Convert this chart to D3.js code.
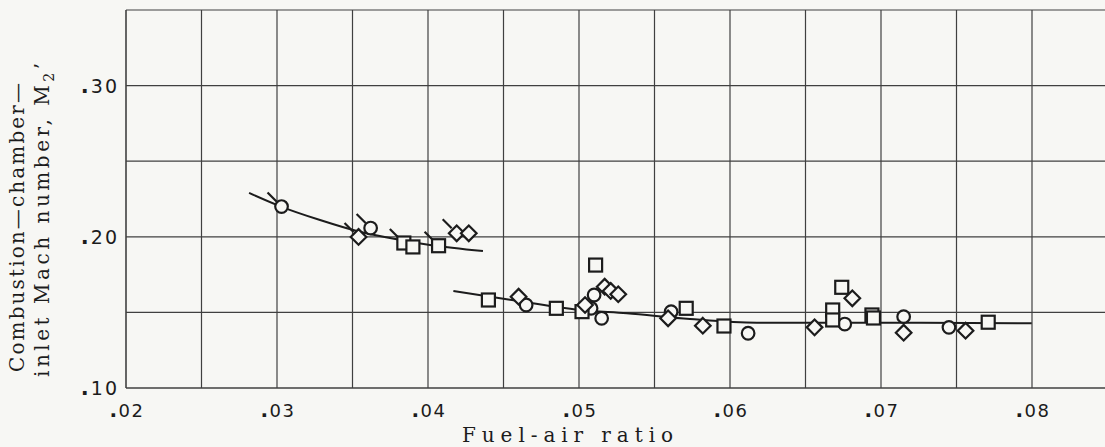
<!DOCTYPE html>
<html>
<head>
<meta charset="utf-8">
<script src="https://cdn.jsdelivr.net/npm/d3@7"></script>
<style>
  html, body { margin: 0; padding: 0; background: #f7f7f4; }
  svg { display: block; }
</style>
</head>
<body>
<svg id="drawing_region"></svg>
<script>
// tick values
const xTicks = [0.02, 0.03, 0.04, 0.05, 0.06, 0.07, 0.08];
const yTicks = [0.10, 0.20, 0.30];

// circles
const circleFar = [0.0303, 0.0362, 0.0465, 0.0510, 0.0508, 0.0515, 0.0561, 0.0612, 0.0676, 0.0715, 0.0745];
const circleM2  = [0.2200, 0.2058, 0.1549, 0.1615, 0.1527, 0.1461, 0.1505, 0.1362, 0.1423, 0.1472, 0.1401];
const circleFlag = [1, 1, 0, 0, 0, 0, 0, 0, 0, 0, 0];

// squares
const squareFar = [0.0384, 0.0390, 0.0407, 0.0440, 0.0485, 0.0511, 0.0502, 0.0571, 0.0596, 0.0668, 0.0668, 0.0674, 0.0694, 0.0695, 0.0771];
const squareM2  = [0.1959, 0.1933, 0.1941, 0.1582, 0.1527, 0.1813, 0.1505, 0.1527, 0.1410, 0.1516, 0.1450, 0.1666, 0.1483, 0.1463, 0.1435];
const squareFlag = [1, 0, 1, 0, 0, 0, 0, 0, 0, 0, 0, 0, 0, 0, 0];

// diamonds
const diamondFar = [0.0354, 0.0419, 0.0427, 0.0460, 0.0504, 0.0517, 0.0521, 0.0526, 0.0559, 0.0582, 0.0656, 0.0681, 0.0715, 0.0756];
const diamondM2  = [0.1999, 0.2023, 0.2023, 0.1604, 0.1549, 0.1670, 0.1642, 0.1620, 0.1461, 0.1412, 0.1401, 0.1593, 0.1366, 0.1379];
const diamondFlag = [1, 1, 0, 0, 0, 0, 0, 0, 0, 0, 0, 0, 0, 0];

// faired curves
const curve1Far = [0.02815, 0.03026, 0.03285, 0.03530, 0.03815, 0.04013, 0.04364];
const curve1M2  = [0.2290, 0.2200, 0.2111, 0.2038, 0.1979, 0.1946, 0.1906];
const curve2Far = [0.04168, 0.04521, 0.05007, 0.05316, 0.05735, 0.06177, 0.07060, 0.07998];
const curve2M2  = [0.1642, 0.1587, 0.1516, 0.1494, 0.1456, 0.1432, 0.1432, 0.1428];

const width = 1105, height = 447;
const ink = '#1c1c1c';
const paper = '#f7f7f4';

const svg = d3.select('#drawing_region')
    .attr('width', width)
    .attr('height', height);

svg.append('rect').attr('width', width).attr('height', height).attr('fill', paper);

const xscale = d3.scaleLinear().domain([0.02, 0.08]).range([126, 1032]);
const yscale = d3.scaleLinear().domain([0.10, 0.35]).range([388, 10]);

// grid
const gridX = d3.range(0, 14).map(i => 0.02 + i * 0.005);
const gridY = d3.range(0, 6).map(i => 0.10 + i * 0.05);

svg.append('g')
    .selectAll('line')
    .data(gridX)
    .join('line')
    .attr('x1', d => xscale(d)).attr('x2', d => xscale(d))
    .attr('y1', yscale(0.35)).attr('y2', yscale(0.10))
    .attr('stroke', '#404040')
    .attr('stroke-width', d => d === 0.02 ? 1.6 : 1.2);

svg.append('g')
    .selectAll('line')
    .data(gridY)
    .join('line')
    .attr('x1', xscale(0.02)).attr('x2', width)
    .attr('y1', d => yscale(d)).attr('y2', d => yscale(d))
    .attr('stroke', '#404040')
    .attr('stroke-width', d => d < 0.11 ? 1.7 : 1.2);

// tick labels
const fmt = d => d3.format('.2f')(d).slice(1);

const xlab = svg.append('g')
    .selectAll('text')
    .data(xTicks)
    .join('text')
    .attr('x', d => xscale(d) + 1)
    .attr('y', 417)
    .attr('text-anchor', 'middle')
    .attr('font-family', 'DejaVu Sans')
    .attr('font-size', 18)
    .attr('letter-spacing', 1.5)
    .attr('fill', ink);
xlab.append('tspan').attr('font-weight', 'bold').attr('font-size', 20).text('.');
xlab.append('tspan').text(d => fmt(d).slice(1));

const ylab = svg.append('g')
    .selectAll('text')
    .data(yTicks)
    .join('text')
    .attr('x', 119)
    .attr('y', d => yscale(d) + 7)
    .attr('text-anchor', 'end')
    .attr('font-family', 'DejaVu Sans')
    .attr('font-size', 19)
    .attr('letter-spacing', 2)
    .attr('fill', ink);
ylab.append('tspan').attr('font-weight', 'bold').attr('font-size', 21).text('.');
ylab.append('tspan').text(d => fmt(d).slice(1));

// axis titles, typewriter style
svg.append('text')
    .attr('x', 462).attr('y', 442)
    .attr('font-family', 'DejaVu Serif')
    .attr('font-size', 20)
    .attr('textLength', 211)
    .attr('lengthAdjust', 'spacing')
    .attr('fill', ink)
    .text('Fuel-air ratio');

svg.append('text')
    .attr('transform', 'translate(24,372) rotate(-90)')
    .attr('font-family', 'DejaVu Serif')
    .attr('font-size', 20)
    .attr('textLength', 289)
    .attr('lengthAdjust', 'spacing')
    .attr('fill', ink)
    .text('Combustion\u2014chamber\u2014');

const t2 = svg.append('text')
    .attr('transform', 'translate(49,377) rotate(-90)')
    .attr('font-family', 'DejaVu Serif')
    .attr('font-size', 20)
    .attr('textLength', 314)
    .attr('lengthAdjust', 'spacing')
    .attr('fill', ink);
t2.append('tspan').text('inlet Mach number, M');
t2.append('tspan').attr('font-size', 14).attr('dy', 5).text('2');
t2.append('tspan').attr('dy', -5).text('\u2019');

// faired curves
const line = d3.line()
    .x(d => xscale(d[0]))
    .y(d => yscale(d[1]))
    .curve(d3.curveMonotoneX);

[[curve1Far, curve1M2], [curve2Far, curve2M2]].forEach(([fx, fy]) => {
    svg.append('path')
        .datum(fx.map((v, i) => [v, fy[i]]))
        .attr('d', line)
        .attr('fill', 'none')
        .attr('stroke', ink)
        .attr('stroke-width', 2);
});

// symbols
const marks = svg.append('g')
    .attr('fill', paper)
    .attr('stroke', ink)
    .attr('stroke-width', 2.2);

function flags(fx, fy, ff) {
    marks.selectAll(null)
        .data(fx.map((v, i) => [v, fy[i], ff[i]]).filter(d => d[2]))
        .join('line')
        .attr('x1', d => xscale(d[0]) - 14).attr('y1', d => yscale(d[1]) - 14)
        .attr('x2', d => xscale(d[0]) - 5).attr('y2', d => yscale(d[1]) - 5);
}

flags(circleFar, circleM2, circleFlag);
flags(squareFar, squareM2, squareFlag);
flags(diamondFar, diamondM2, diamondFlag);

marks.selectAll(null)
    .data(circleFar.map((v, i) => [v, circleM2[i]]))
    .join('circle')
    .attr('cx', d => xscale(d[0]))
    .attr('cy', d => yscale(d[1]))
    .attr('r', 6.3);

marks.selectAll(null)
    .data(squareFar.map((v, i) => [v, squareM2[i]]))
    .join('rect')
    .attr('x', d => xscale(d[0]) - 6.5)
    .attr('y', d => yscale(d[1]) - 6.5)
    .attr('width', 13)
    .attr('height', 13);

marks.selectAll(null)
    .data(diamondFar.map((v, i) => [v, diamondM2[i]]))
    .join('path')
    .attr('d', d => {
        const cx = xscale(d[0]), cy = yscale(d[1]), r = 7.8;
        return `M${cx},${cy - r}L${cx + r},${cy}L${cx},${cy + r}L${cx - r},${cy}Z`;
    });
</script>
</body>
</html>
